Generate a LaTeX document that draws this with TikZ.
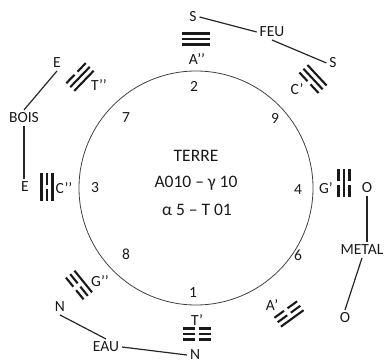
\documentclass[tikz,border=0pt]{standalone}
\usepackage{fontspec}
\setmainfont{Carlito}
\newcommand{\trigline}[2]{%
  \ifnum#2=1
    \draw[tl] (-14,#1) -- (14,#1);
  \else
    \draw[tl] (-14,#1) -- (-2.2,#1) (2.2,#1) -- (14,#1);
  \fi}
\newcommand{\trig}[6]{%
  \begin{scope}[shift={(#1,#2)},rotate=#3,y=1pt]
    \trigline{-5.5}{#4}
    \trigline{0}{#5}
    \trigline{5.5}{#6}
  \end{scope}}
\begin{document}
\begin{tikzpicture}[x=1pt,y=-1pt,
  lab/.style={inner sep=1pt,outer sep=2pt,text=black!90,font=\fontsize{15.5}{17}\selectfont},
  big/.style={inner sep=1pt,text=black!90,font=\fontsize{17.5}{19}\selectfont},
  con/.style={draw=black!85,line width=1.2pt},
  tl/.style={draw=black!90,line width=2.1pt,line cap=butt},
  circ/.style={draw=black!75,line width=0.8pt}]
\useasboundingbox (0,0) rectangle (388,363);
\draw[circ] (196,188) circle (117);
% centre text
\node[big] (terre) at (196,156) {TERRE};
\node[big] (l1) at (196,183) {A010 – γ 10};
\node[big] (l2) at (197,210) {α 5 – T 01};
% numbers
\node[lab] (n2) at (194,86) {2};
\node[lab] (n7) at (126,118) {7};
\node[lab] (n9) at (275,118) {9};
\node[lab] (n3) at (95,188) {3};
\node[lab] (n4) at (298,190) {4};
\node[lab] (n8) at (126,254) {8};
\node[lab] (n6) at (298,255) {6};
\node[lab] (n1) at (193,293) {1};
% trigram labels
\node[lab] (ta) at (197,59) {A’’};
\node[lab] (tt) at (197,320) {T’};
\node[lab] (tc2) at (64,188) {C’’};
\node[lab] (tg) at (326,188) {G’};
\node[lab] (tt2) at (99,85) {T’’};
\node[lab] (tc) at (297,89) {C’};
\node[lab] (tg2) at (100,281) {G’’};
\node[lab] (ta1) at (272,305) {A’};
% trigrams (inner, middle, outer)
\trig{196}{39}{0}{1}{1}{1}
\trig{197}{334}{180}{0}{0}{0}
\trig{47}{187}{90}{1}{0}{1}
\trig{344}{183}{-90}{0}{1}{0}
\trig{80}{77}{46}{1}{1}{0}
\trig{313}{79}{-47}{0}{1}{1}
\trig{79}{285}{129}{1}{0}{0}
\trig{289}{314}{-144}{0}{0}{1}
% outer labels
\node[lab] (s1) at (193,17) {S};
\node[lab] (feu) at (272,32) {FEU};
\node[lab] (s2) at (333,63) {S};
\node[lab] (e1) at (57,63) {E};
\node[lab] (bois) at (24,118) {BOIS};
\node[lab] (e2) at (25,187) {E};
\node[lab] (nn1) at (60,307) {N};
\node[lab] (eau) at (106,347) {EAU};
\node[lab] (nn2) at (195,355) {N};
\node[lab] (o1) at (367,188) {O};
\node[lab] (metal) at (362,250) {METAL};
\node[lab] (o2) at (345,318) {O};
% connectors
\draw[con] (s1.east) -- (feu.west);
\draw[con] (feu.south) -- (s2.west);
\draw[con] (e1.south) -- (bois.north);
\draw[con] (bois.south) -- (bois.south |- e2.north);
\draw[con] (nn1.south) -- (eau.north);
\draw[con] (eau.east) -- (nn2.west);
\draw[con] (o1.south) -- (o1.south |- metal.north);
\draw[con] (metal.south) -- (o2.north);
\end{tikzpicture}
\end{document}
